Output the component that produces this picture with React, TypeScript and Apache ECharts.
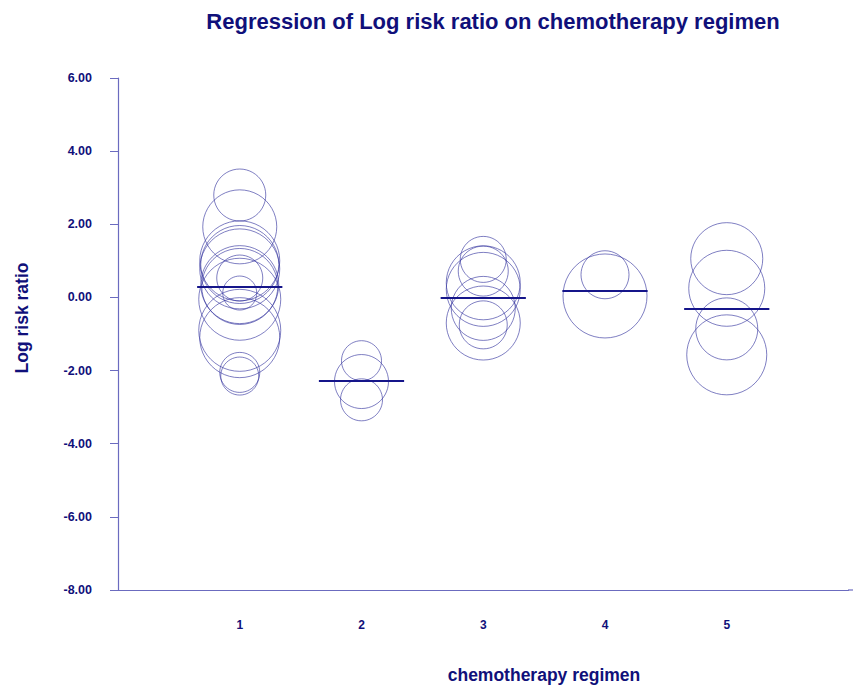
import React, { useEffect, useRef } from "react";
import * as echarts from "echarts";

// Regimen categories (x) and fitted regression values per regimen
const regimens = [1, 2, 3, 4, 5];
const fittedLogRR = [0.29, -2.29, -0.02, 0.18, -0.31];

// Individual studies: regimen, log risk ratio, weight (bubble diameter)
const studyRegimen = [
  1, 1, 1, 1, 1, 1, 1, 1, 1, 1, 1, 1, 1, 1,
  2, 2, 2,
  3, 3, 3, 3, 3, 3, 3,
  4, 4,
  5, 5, 5, 5,
];
const studyLogRR = [
  2.8, 1.93, 1.0, 0.9, 0.78, 0.35, 0.3, 0.53, 0.12, -0.05, -0.9, -1.1, -2.05, -2.15,
  -1.73, -2.3, -2.8,
  1.04, 0.72, 0.4, 0.22, -0.3, -0.7, -0.75,
  0.62, 0.04,
  1.06, 0.25, -0.86, -1.57,
];
const studyWeight = [
  52, 74, 80, 78, 80, 78, 76, 46, 34, 82, 82, 80, 40, 38,
  40, 54, 42,
  46, 50, 74, 74, 64, 74, 48,
  48, 84,
  72, 76, 62, 80,
];

const yTicks = [-8, -6, -4, -2, 0, 2, 4, 6];

export default function App() {
  const ref = useRef<HTMLDivElement>(null);
  useEffect(() => {
    if (!ref.current) return;
    const chart = echarts.init(ref.current, undefined, { renderer: "svg" });
    const navy = "#10107a";
    const axisColor = "#6b6bbf";
    const halfWidth = 0.35;
    const font = "Liberation Sans, Arial, sans-serif";
    chart.setOption({
      animation: false,
      backgroundColor: "#ffffff",
      title: {
        text: "Regression of Log risk ratio on chemotherapy regimen",
        left: 488,
        top: 5,
        textAlign: "center",
        textStyle: {
          fontFamily: font,
          fontWeight: "bold",
          fontSize: 22,
          color: navy,
        },
      },
      graphic: [
        {
          type: "text",
          x: 22,
          y: 318,
          rotation: Math.PI / 2,
          style: {
            text: "Log risk ratio",
            fill: navy,
            font: "bold 17.5px " + font,
            align: "center",
            verticalAlign: "middle",
          },
        },
        {
          type: "text",
          x: 544,
          y: 675,
          style: {
            text: "chemotherapy regimen",
            fill: navy,
            font: "bold 17.5px " + font,
            align: "center",
            verticalAlign: "middle",
          },
        },
        {
          type: "line",
          shape: { x1: 848, y1: 590, x2: 853, y2: 590 },
          style: { stroke: axisColor, lineWidth: 1.2 },
        },
      ],
      grid: { left: 118, top: 78, width: 730.5, height: 512 },
      xAxis: {
        type: "value",
        min: 0,
        max: 6,
        interval: 1,
        splitLine: { show: false },
        axisTick: { show: false },
        axisLine: { onZero: false, lineStyle: { color: axisColor, width: 1.2 } },
        axisLabel: {
          margin: 29,
          color: navy,
          fontWeight: "bold",
          fontSize: 12,
          fontFamily: font,
          formatter: (v: number) => (regimens.includes(v) ? String(v) : ""),
        },
      },
      yAxis: {
        type: "value",
        min: yTicks[0],
        max: yTicks[yTicks.length - 1],
        interval: 2,
        splitLine: { show: false },
        axisLine: { show: true, onZero: false, lineStyle: { color: axisColor, width: 1.2 } },
        axisTick: { show: true, length: 8, lineStyle: { color: axisColor } },
        axisLabel: {
          margin: 26,
          color: navy,
          fontWeight: "bold",
          fontSize: 12.5,
          fontFamily: font,
          formatter: (v: number) => v.toFixed(2),
        },
      },
      series: [
        {
          type: "scatter",
          data: studyLogRR.map((y, i) => [studyRegimen[i], y, studyWeight[i]]),
          symbol: "circle",
          symbolSize: (v: number[]) => v[2],
          itemStyle: {
            color: "rgba(0,0,0,0)",
            borderColor: "rgba(55,55,160,0.8)",
            borderWidth: 1,
          },
          z: 2,
        },
        {
          type: "lines",
          coordinateSystem: "cartesian2d",
          data: regimens.map((r, i) => ({
            coords: [
              [r - halfWidth, fittedLogRR[i]],
              [r + halfWidth, fittedLogRR[i]],
            ],
          })),
          lineStyle: { color: "#15158a", width: 2, opacity: 1 },
          z: 3,
        },
      ],
    });
    return () => chart.dispose();
  }, []);
  return (
    <div
      ref={ref}
      style={{ position: "fixed", left: 0, top: 0, width: 853, height: 686 }}
    />
  );
}
